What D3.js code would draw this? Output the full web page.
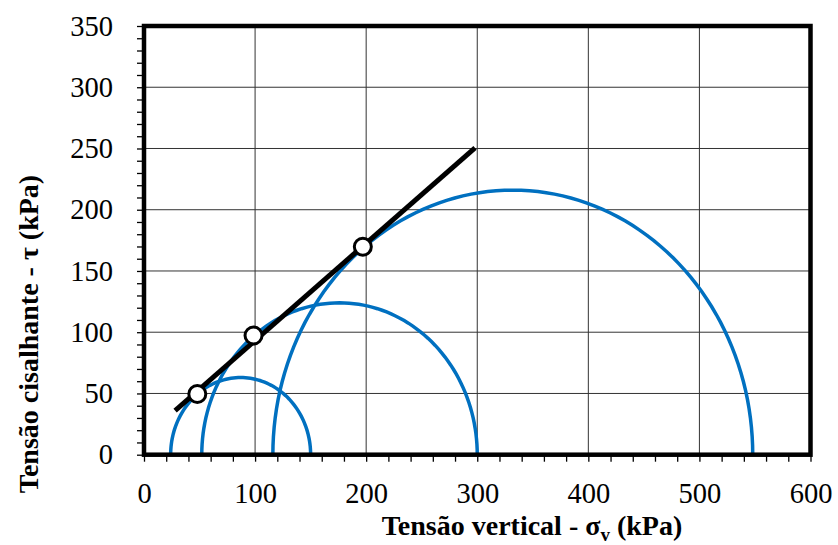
<!DOCTYPE html>
<html><head><meta charset="utf-8"><script src="https://cdn.jsdelivr.net/npm/d3@7"></script></head>
<body style="margin:0">
<svg id="chart" width="838" height="545" font-family="Liberation Serif"></svg>
<script>
// Mohr circles: [sigma3, sigma1] in kPa
const circleLows  = [24, 52, 116];
const circleHighs = [150, 300, 548];

// Points of tangency on the failure envelope (sigma, tau)
const pointSigma = [48, 98.6, 197];
const pointTau   = [49.6, 97.3, 169.8];

// Failure envelope end points (sigma, tau)
const envSigma = [28, 298];
const envTau   = [36, 250.5];

// Axis tick values
const xMajor = [0, 100, 200, 300, 400, 500, 600];
const yMajor = [0, 50, 100, 150, 200, 250, 300, 350];

const svg = d3.select("#chart");
const plotLeft = 144, plotRight = 810.5, plotTop = 26, plotBottom = 454.7;
const FONT = "Liberation Serif";

const x = d3.scaleLinear().domain([0, 600]).range([plotLeft, plotRight]);
const y = d3.scaleLinear().domain([0, 350]).range([plotBottom, plotTop]);

// Grid
const grid = svg.append("g");
grid.selectAll(".gx").data(xMajor.slice(1, -1)).join("line")
  .attr("x1", d => x(d)).attr("x2", d => x(d))
  .attr("y1", plotTop).attr("y2", plotBottom)
  .attr("stroke", "#333").attr("stroke-width", 1);
grid.selectAll(".gy").data(yMajor.slice(1, -1)).join("line")
  .attr("y1", d => y(d)).attr("y2", d => y(d))
  .attr("x1", plotLeft).attr("x2", plotRight)
  .attr("stroke", "#333").attr("stroke-width", 1);

// Axes
const xAxis = d3.axisBottom(x)
  .tickValues(d3.range(0, 601, 20))
  .tickSize(7).tickPadding(21)
  .tickFormat(d => xMajor.includes(d) ? d : "");
const gx = svg.append("g").attr("transform", `translate(0,${plotBottom})`).call(xAxis);

const yAxis = d3.axisLeft(y)
  .tickValues(d3.range(0, 351, 10))
  .tickSize(7).tickPadding(24)
  .tickFormat(d => yMajor.includes(d) ? d : "");
const gy = svg.append("g").attr("transform", `translate(${plotLeft},0)`).call(yAxis);

[gx, gy].forEach(g => {
  g.attr("font-family", FONT).attr("font-size", 28.5);
  g.select(".domain").remove();
  g.selectAll(".tick line").attr("stroke", "#000").attr("stroke-width", 1.3);
  g.selectAll(".tick text").attr("fill", "#000").attr("font-family", FONT);
});

// Mohr circles (upper halves)
const circles = circleLows.map((lo, i) => {
  const c = (lo + circleHighs[i]) / 2, r = (circleHighs[i] - lo) / 2;
  return d3.range(0, 181, 2).map(a => {
    const t = a * Math.PI / 180;
    return [c + r * Math.cos(t), r * Math.sin(t)];
  });
});
const line = d3.line().x(d => x(d[0])).y(d => y(d[1]));
svg.append("g").selectAll("path").data(circles).join("path")
  .attr("d", line)
  .attr("fill", "none").attr("stroke", "#0070C0").attr("stroke-width", 3.5);

// Failure envelope
svg.append("path")
  .datum(envSigma.map((s, i) => [s, envTau[i]]))
  .attr("d", line)
  .attr("fill", "none").attr("stroke", "#000").attr("stroke-width", 5);

// Tangency points
svg.append("g").selectAll("circle").data(pointSigma).join("circle")
  .attr("cx", d => x(d)).attr("cy", (d, i) => y(pointTau[i]))
  .attr("r", 8.5)
  .attr("fill", "#fff").attr("stroke", "#000").attr("stroke-width", 3);

// Plot frame
svg.append("rect")
  .attr("x", plotLeft).attr("y", plotTop)
  .attr("width", plotRight - plotLeft).attr("height", plotBottom - plotTop)
  .attr("fill", "none").attr("stroke", "#000").attr("stroke-width", 4.5);

// Axis titles
const xt = svg.append("text")
  .attr("x", 532).attr("y", 535)
  .attr("text-anchor", "middle")
  .attr("font-family", FONT).attr("font-size", 28).attr("font-weight", "bold");
xt.append("tspan").text("Tensão vertical - σ");
xt.append("tspan").attr("dy", 6).attr("font-size", 19).text("v");
xt.append("tspan").attr("dy", -6).text(" (kPa)");

svg.append("text")
  .attr("transform", "translate(38,334) rotate(-90)")
  .attr("text-anchor", "middle")
  .attr("font-family", FONT).attr("font-size", 28).attr("font-weight", "bold")
  .text("Tensão cisalhante - τ (kPa)");
</script>
</body></html>
